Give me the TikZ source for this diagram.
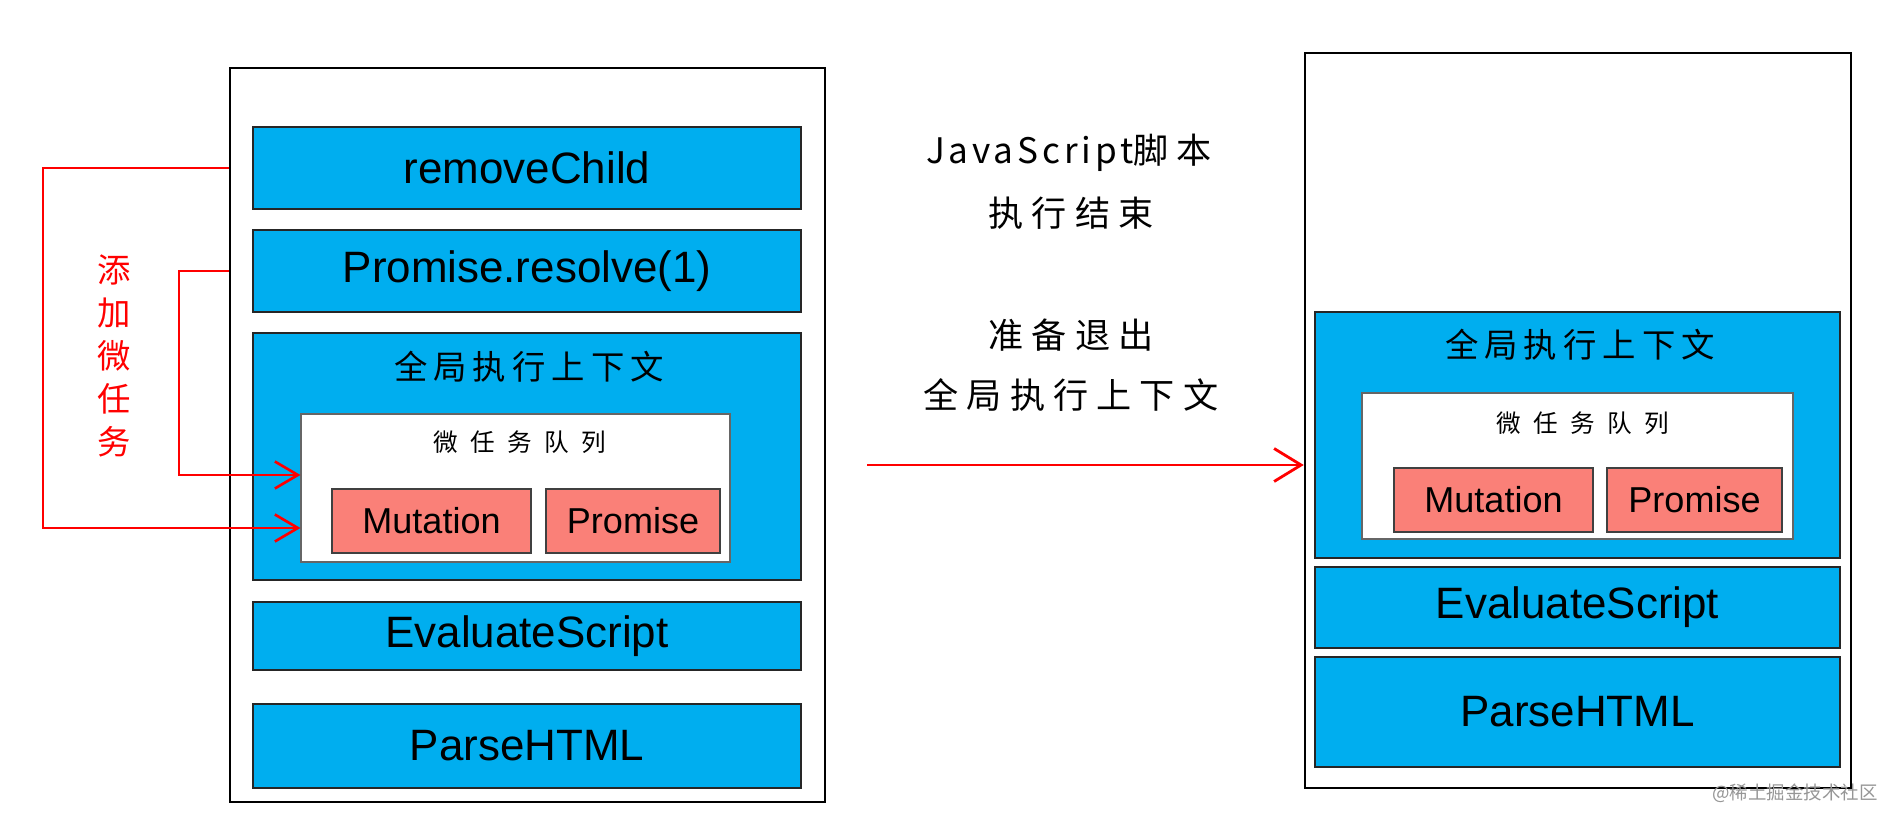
\documentclass[tikz,border=0pt]{standalone}
\usepackage{fontspec}
\setmainfont{Liberation Sans}
\newfontfamily\cjkbig[LetterSpace=23]{Noto Sans CJK SC}
\newfontfamily\cjklat[LetterSpace=11]{Noto Sans CJK SC}
\newfontfamily\cjkmid[LetterSpace=18]{Noto Sans CJK SC}
\newfontfamily\cjksmall[LetterSpace=50]{Noto Sans CJK SC}
\newfontfamily\cjkplain{Noto Sans CJK SC}
\usetikzlibrary{fit,arrows.meta}
\definecolor{boxblue}{RGB}{0,174,239}
\definecolor{boxpink}{RGB}{250,128,120}
\definecolor{wmgray}{RGB}{150,150,150}
\begin{document}
\begin{tikzpicture}[x=0.02cm,y=-0.02cm,
  frame/.style={draw=black, line width=1.4pt, inner sep=0pt},
  bluebox/.style={draw=black!85, line width=1pt, fill=boxblue, inner sep=0pt},
  qbox/.style={draw=black!60, line width=0.6pt, fill=white, inner sep=0pt},
  pinkbox/.style={draw=black!75, line width=0.8pt, fill=boxpink, inner sep=0pt},
  bigtext/.style={font=\fontsize{25}{30}\selectfont},
  pinktext/.style={font=\fontsize{20.5}{24}\selectfont},
  redarrow/.style={draw=red, line width=1.5pt, -{Straight Barb[length=0.46cm, width=0.54cm, line width=1.5pt]}},
  midarrow/.style={draw=red, line width=1.6pt, -{Straight Barb[length=0.54cm, width=0.66cm, line width=1.6pt]}},
  ctxtext/.style={font=\cjkmid\fontsize{19}{22}\selectfont},
  qtext/.style={font=\cjksmall\fontsize{14}{17}\selectfont},
  midtext/.style={font=\cjkbig\fontsize{20}{24}\selectfont}
]
\useasboundingbox (0,0) rectangle (1900,827);
\fill[white] (0,0) rectangle (1900,827);

% ---------- left stack ----------
\node[frame, fit={(230,68) (825,802)}] (frameL) {};
\node[bluebox, fit={(253,127) (801,209)}] (rc) {};
\node[bigtext] (rct) at (rc.center) {removeChild};
\node[bluebox, fit={(253,230) (801,312)}] (pr) {};
\node[bigtext] (prt) at (pr.center) {Promise.resolve(1)};
\node[bluebox, fit={(253,333) (801,580)}] (gl) {};
\node[ctxtext] (glt) at (529,367) {全局执行上下文};
\node[qbox, fit={(301,414) (730,562)}] (mq) {};
\node[qtext] (mqt) at (520,442) {微任务队列};
\node[pinkbox, fit={(332,489) (531,553)}] (mu) {};
\node[pinktext] (mut) at (mu.center) {Mutation};
\node[pinkbox, fit={(546,489) (720,553)}] (pm) {};
\node[pinktext] (pmt) at (pm.center) {Promise};
\node[bluebox, fit={(253,602) (801,670)}] (ev) {};
\node[bigtext] (evt) at (ev.center) {EvaluateScript};
\node[bluebox, fit={(253,704) (801,788)}] (ph) {};
\node[bigtext] (pht) at (ph.center) {ParseHTML};

% red connectors
\coordinate (r1) at (43,528);
\coordinate (r2) at (179,475);
\draw[redarrow] (frameL.west |- rc.center) -| (r1) -- (mq.west |- r1);
\draw[redarrow] (frameL.west |- pr.center) -| (r2) -- (mq.west |- r2);
\node[text=red, align=center, font=\cjkplain\fontsize{19}{24.5}\selectfont] (add) at (114,356) {添\\加\\微\\任\\务};

% ---------- middle ----------
\node[midtext] (m1) at (1069,153) {{\cjklat JavaScript}脚本};
\node[midtext] (m2) at (1071,213) {执行结束};
\node[midtext] (m3) at (1071,335) {准备退出};
\node[midtext] (m4) at (1071,395) {全局执行上下文};

% ---------- right stack ----------
\node[frame, fit={(1305,53) (1851,788)}] (frameR) {};
\node[bluebox, fit={(1315,312) (1840,558)}] (gl2) {};
\node[ctxtext] (glt2) at (1580,345) {全局执行上下文};
\node[qbox, fit={(1362,393) (1793,539)}] (mq2) {};
\node[qtext] (mqt2) at (1583,423) {微任务队列};
\node[pinkbox, fit={(1394,468) (1593,532)}] (mu2) {};
\node[pinktext] (mut2) at (mu2.center) {Mutation};
\node[pinkbox, fit={(1607,468) (1782,532)}] (pm2) {};
\node[pinktext] (pmt2) at (pm2.center) {Promise};
\node[bluebox, fit={(1315,567) (1840,648)}] (ev2) {};
\node[bigtext] (evt2) at (ev2.center) {EvaluateScript};
\node[bluebox, fit={(1315,657) (1840,767)}] (ph2) {};
\node[bigtext] (pht2) at (ph2.center) {ParseHTML};

\coordinate (ma) at (867,465);
\draw[midarrow] (ma) -- (ma -| frameR.west);

% watermark
\node[text=wmgray, font=\cjkplain\fontsize{10.5}{12}\selectfont] (wm) at (1795,793) {@稀土掘金技术社区};
\end{tikzpicture}
\end{document}
